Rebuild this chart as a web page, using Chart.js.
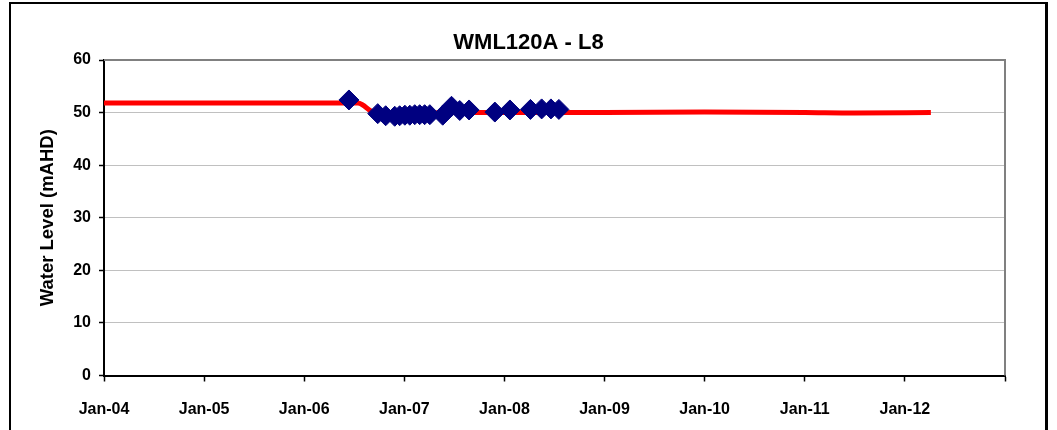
<!DOCTYPE html>
<html>
<head>
<meta charset="utf-8">
<title>WML120A - L8</title>
<script src="https://cdn.jsdelivr.net/npm/chart.js@4"></script>
<style>
  html, body { margin: 0; padding: 0; background: #fff; overflow: hidden; }
  #wrap { position: relative; width: 1057px; height: 430px; }
  #frame {
    position: absolute; left: 9px; top: 2px; width: 1034px; height: 460px;
    border-left: 2px solid #000; border-top: 2px solid #000; border-right: 3px solid #000;
    pointer-events: none;
  }
  canvas { position: absolute; left: 0; top: 0; }
</style>
</head>
<body>
<div id="wrap">
  <canvas id="c" width="1057" height="430"></canvas>
  <div id="frame"></div>
</div>
<script>
// Measured water levels (mAHD) at the bore
const obsDates = [
  "2006-06-13", "2006-09-26", "2006-10-25", "2006-11-27", "2006-12-15",
  "2007-01-03", "2007-01-21", "2007-02-08", "2007-02-26", "2007-03-16",
  "2007-04-04", "2007-05-21", "2007-06-22", "2007-07-22", "2007-08-25",
  "2007-11-27", "2008-01-21", "2008-04-05", "2008-05-16", "2008-06-19",
  "2008-07-18"
];
const obsLevels = [
  52.4, 49.8, 49.4, 49.3, 49.4,
  49.5, 49.5, 49.6, 49.6, 49.6,
  49.6, 49.5, 51.2, 50.4, 50.5,
  50.1, 50.5, 50.6, 50.7, 50.7,
  50.6
];

// Modelled water level (mAHD)
const modelDates = [
  "2004-01-01", "2006-07-15", "2006-08-01", "2006-09-01", "2006-10-01",
  "2007-01-01", "2007-04-01", "2007-07-01", "2008-01-01", "2009-01-01",
  "2010-01-01", "2011-01-01", "2011-07-01", "2012-04-05"
];
const modelLevels = [
  51.8, 51.8, 51.5, 50.3, 49.8,
  49.7, 49.9, 50.0, 50.0, 50.0,
  50.1, 50.0, 49.9, 50.0
];

// Axis tick labels, one per January from 2004
const yearLabels = ["Jan-04", "Jan-05", "Jan-06", "Jan-07", "Jan-08",
                    "Jan-09", "Jan-10", "Jan-11", "Jan-12"];
const firstYear = 2004;
const lastYear = 2013;

// ISO date -> fractional year for the linear x axis
function toYear(iso) {
  const [y, m, d] = iso.split("-").map(Number);
  const start = Date.UTC(y, 0, 1);
  const end = Date.UTC(y + 1, 0, 1);
  return y + (Date.UTC(y, m - 1, d) - start) / (end - start);
}
function pairs(dates, vals) {
  return dates.map((d, i) => ({ x: toYear(d), y: vals[i] }));
}

const FONT = "'Liberation Sans', Arial, sans-serif";

// Grey plot-area border on the top and right sides
const plotBorder = {
  id: "plotBorder",
  beforeDatasetsDraw(chart) {
    const { ctx, chartArea: a } = chart;
    ctx.save();
    ctx.strokeStyle = "#808080";
    ctx.lineWidth = 2;
    ctx.beginPath();
    ctx.moveTo(a.left, a.top);
    ctx.lineTo(a.right, a.top);
    ctx.lineTo(a.right, a.bottom);
    ctx.stroke();
    ctx.restore();
  }
};

new Chart(document.getElementById("c"), {
  type: "scatter",
  data: {
    datasets: [
      {
        label: "Observed",
        data: pairs(obsDates, obsLevels),
        showLine: false,
        pointStyle: "rectRot",
        pointRadius: 10,
        backgroundColor: "#000080",
        borderColor: "#000080",
        borderWidth: 1
      },
      {
        label: "Modelled",
        data: pairs(modelDates, modelLevels),
        showLine: true,
        pointRadius: 0,
        borderColor: "#ff0000",
        borderWidth: 5,
        cubicInterpolationMode: "monotone",
        fill: false
      }
    ]
  },
  options: {
    responsive: false,
    animation: false,
    devicePixelRatio: 1,
    layout: { padding: 0 },
    plugins: {
      legend: { display: false },
      tooltip: { enabled: false },
      title: {
        display: true,
        text: "WML120A - L8",
        color: "#000",
        font: { family: FONT, size: 22, weight: "bold" },
        padding: { top: 30, bottom: 3.6 }
      }
    },
    scales: {
      x: {
        type: "linear",
        min: firstYear,
        max: lastYear,
        afterFit(scale) { scale.height = 54.5; },
        ticks: {
          stepSize: 1,
          autoSkip: false,
          maxRotation: 0,
          padding: 18,
          color: "#000",
          font: { family: FONT, size: 16, weight: "bold" },
          callback: (v) => yearLabels[Math.round(v) - firstYear] || ""
        },
        grid: {
          drawOnChartArea: false,
          drawTicks: true,
          tickLength: 6,
          tickColor: "#000",
          tickWidth: 1.5
        },
        border: { display: true, color: "#000", width: 2 }
      },
      y: {
        min: 0,
        max: 60,
        afterFit(scale) { scale.width = 104; },
        ticks: {
          stepSize: 10,
          padding: 8,
          color: "#000",
          font: { family: FONT, size: 16, weight: "bold" }
        },
        grid: {
          color: "#c0c0c0",
          lineWidth: 1,
          tickLength: 5,
          tickColor: "#000",
          tickWidth: 1.5
        },
        border: { display: true, color: "#000", width: 2 },
        title: {
          display: true,
          text: "Water Level (mAHD)",
          color: "#000",
          font: { family: FONT, size: 18.5, weight: "bold" },
          padding: { top: 37, bottom: 0 }
        }
      },
      // empty right-hand margin so the title centres on the full width
      yRight: {
        position: "right",
        display: true,
        afterFit(scale) { scale.width = 52; },
        ticks: { display: false },
        grid: { display: false },
        border: { display: false }
      }
    }
  },
  plugins: [plotBorder]
});
</script>
</body>
</html>
